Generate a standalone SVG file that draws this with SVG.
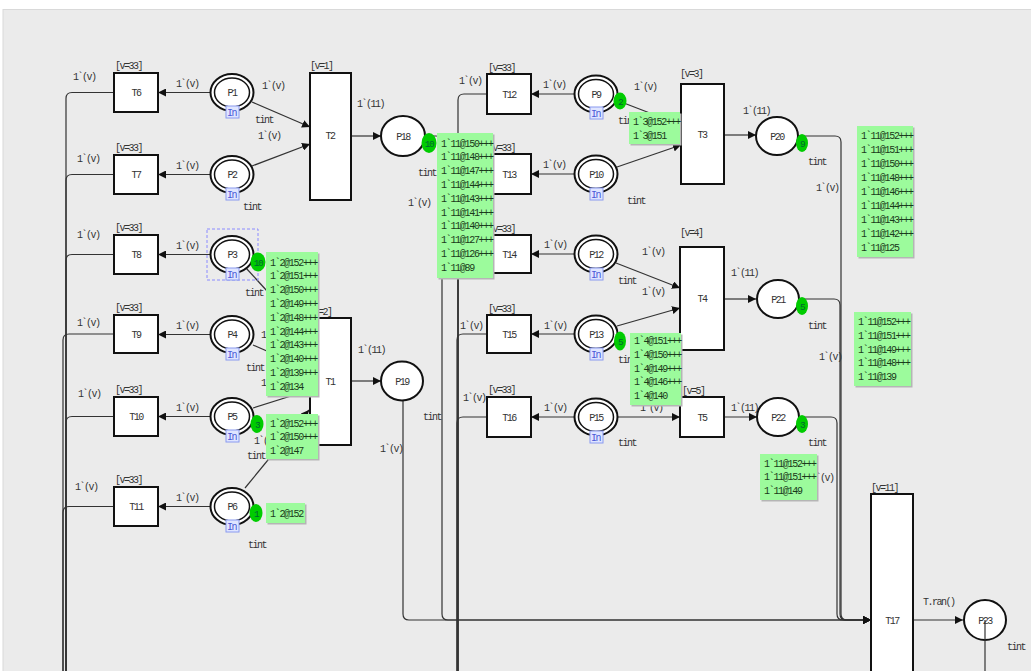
<svg xmlns="http://www.w3.org/2000/svg" width="1031" height="671" viewBox="0 0 1031 671">
<defs>
<style>
text{font-family:"Liberation Mono",monospace;font-size:10px;letter-spacing:-1.5px;fill:#333}
.c{text-anchor:middle}
.tr{fill:#fff;stroke:#111;stroke-width:2}
.pl{fill:#fff;stroke:#111;stroke-width:2}
.pi{fill:none;stroke:#111;stroke-width:1.5}
.in rect{fill:#dfe5ff;stroke:#8a9af0;stroke-width:1}
.in text{fill:#4a5ad8;font-size:10px}
.arc{fill:none;stroke:#333;stroke-width:1.2}
.ar{marker-end:url(#ah)}
.tok ellipse{fill:#00cc00}
.tok text{fill:#063;font-size:9.5px}
.box .sh{fill:#b5b5b5}
.box .bg{fill:#9cfb9c}
.box text{fill:#1a3a1a;letter-spacing:-1.3px}
</style>
<marker id="ah" viewBox="0 0 10 10" refX="10" refY="5" markerWidth="8" markerHeight="8" orient="auto" markerUnits="userSpaceOnUse"><path d="M0,0 L10,5 L0,10 z" fill="#111"/></marker>
</defs>
<rect x="0" y="0" width="1031" height="671" fill="#fff"/>
<rect x="3" y="9.5" width="1030" height="663" fill="#ebebeb" stroke="#d9d9d9"/>

<g id="connectors">
<g class="arc">
<path d="M114 92.5 H72 Q66 92.5 66 98.5 V671"/>
<path d="M114 174.5 H72 Q66 174.5 66 180.5 V671"/>
<path d="M114 254.5 H72 Q66 254.5 66 260.5 V671"/>
<path d="M114 334 H69 Q63 334 63 340 V671"/>
<path d="M114 416.5 H72 Q66 416.5 66 422.5 V671"/>
<path d="M114 506.5 H69 Q63 506.5 63 512.5 V671"/>
<path d="M487 94 H464 Q458 94 458 100 V671"/>
<path d="M487 174 H464 Q458 174 458 180 V671"/>
<path d="M487 254 H464 Q458 254 458 260 V671"/>
<path d="M487 334 H463 Q457 334 457 340 V671"/>
<path d="M487 417 H463 Q457 417 457 423 V671"/>
<path class="ar" d="M211 92.5 H158"/>
<path class="ar" d="M211 174.5 H158"/>
<path class="ar" d="M211 254.5 H158"/>
<path class="ar" d="M211 334.5 H158"/>
<path class="ar" d="M211 416.5 H158"/>
<path class="ar" d="M211 506.5 H158"/>
<path class="ar" d="M575 94 H531"/>
<path class="ar" d="M575 174 H531"/>
<path class="ar" d="M575 254 H531"/>
<path class="ar" d="M575 334 H531"/>
<path class="ar" d="M575 417 H531"/>
<path class="ar" d="M252 102 L310 127"/>
<path class="ar" d="M252 166 L310 144"/>
<path class="ar" d="M246 268 L310 338"/>
<path class="ar" d="M253 345 L310 370"/>
<path class="ar" d="M253 408 L310 390"/>
<path class="ar" d="M245 488 L309 410"/>
<path class="ar" d="M351 136 H381"/>
<path class="ar" d="M351 381 H381"/>
<path class="ar" d="M616 100 L681 125"/>
<path class="ar" d="M617 167 L681 145"/>
<path class="ar" d="M616 263 L680 288"/>
<path class="ar" d="M617 326 L680 308"/>
<path class="ar" d="M617 417 H680"/>
<path class="ar" d="M724 135 H756"/>
<path class="ar" d="M724 299 H756"/>
<path class="ar" d="M724 417 H757"/>
<path class="ar" d="M425 136 H436 Q442 136 442 142 V614 Q442 620 448 620 H871"/>
<path class="ar" d="M403 400 V614 Q403 620 409 620 H871"/>
<path class="ar" d="M799 136 H835 Q841 136 841 142 V614 Q841 620 847 620 H871"/>
<path class="ar" d="M799 299 H834 Q840 299 840 305 V614 Q840 620 846 620 H871"/>
<path class="ar" d="M800 417 H831 Q837 417 837 423 V614 Q837 620 843 620 H871"/>
<path class="ar" d="M913 620 H963"/>
</g>
<g id="arc-labels">
<text x="73" y="80">1`(v)</text><text x="77" y="162">1`(v)</text><text x="77" y="238">1`(v)</text>
<text x="77" y="326">1`(v)</text><text x="78" y="397">1`(v)</text><text x="75" y="490">1`(v)</text>
<text x="176" y="87">1`(v)</text><text x="176" y="169">1`(v)</text><text x="176" y="249">1`(v)</text>
<text x="176" y="329">1`(v)</text><text x="176" y="411">1`(v)</text><text x="176" y="501">1`(v)</text>
<text x="262" y="89">1`(v)</text><text x="255" y="123">tint</text>
<text x="258" y="139">1`(v)</text><text x="243" y="210">tint</text>
<text x="245" y="296">tint</text><text x="246" y="371">tint</text><text x="247" y="459">tint</text><text x="248" y="548">tint</text>
<text x="261" y="338">1`(v)</text><text x="261" y="386">1`(v)</text><text x="254" y="444">1`(v)</text>
<text x="357" y="107">1`(11)</text><text x="358" y="353">1`(11)</text>
<text x="418" y="176">tint</text><text x="408" y="206">1`(v)</text>
<text x="423" y="420">tint</text><text x="380" y="452">1`(v)</text>
<text x="459" y="84">1`(v)</text><text x="460" y="329">1`(v)</text><text x="463" y="401">1`(v)</text>
<text x="543" y="88">1`(v)</text><text x="543" y="168">1`(v)</text><text x="544" y="248">1`(v)</text>
<text x="544" y="329">1`(v)</text><text x="544" y="411">1`(v)</text>
<text x="634" y="90">1`(v)</text><text x="618" y="124">tint</text><text x="627" y="204">tint</text>
<text x="642" y="255">1`(v)</text><text x="618" y="284">tint</text><text x="642" y="295">1`(v)</text>
<text x="618" y="363">tint</text><text x="640" y="411">1`(v)</text><text x="618" y="446">tint</text>
<text x="743" y="114">1`(11)</text><text x="731" y="276">1`(11)</text><text x="731" y="411">1`(11)</text>
<text x="808" y="165">tint</text><text x="816" y="191">1`(v)</text>
<text x="808" y="329">tint</text><text x="819" y="360">1`(v)</text>
<text x="808" y="446">tint</text><text x="811" y="481">1`(v)</text>
<text x="923" y="605">T.ran()</text><text x="1007" y="650">tint</text>
</g>
</g>

<g id="T6"><rect class="tr" x="114" y="73" width="44" height="39"/><text class="c" x="136" y="96">T6</text><text x="115" y="69">[v=33]</text></g>
<g id="T7"><rect class="tr" x="114" y="155" width="44" height="39"/><text class="c" x="136" y="178">T7</text><text x="115" y="151">[v=33]</text></g>
<g id="T8"><rect class="tr" x="114" y="235" width="44" height="39"/><text class="c" x="136" y="258">T8</text><text x="115" y="231">[v=33]</text></g>
<g id="T9"><rect class="tr" x="114" y="315" width="44" height="38"/><text class="c" x="136" y="338">T9</text><text x="115" y="311">[v=33]</text></g>
<g id="T10"><rect class="tr" x="114" y="397" width="44" height="39"/><text class="c" x="136" y="420">T10</text><text x="115" y="393">[v=33]</text></g>
<g id="T11"><rect class="tr" x="114" y="487" width="44" height="39"/><text class="c" x="136" y="510">T11</text><text x="115" y="483">[v=33]</text></g>
<g id="T2"><rect class="tr" x="310" y="73" width="41" height="127"/><text class="c" x="330" y="139">T2</text><text x="310" y="69">[v=1]</text></g>
<g id="T1"><rect class="tr" x="310" y="318" width="41" height="127"/><text class="c" x="330" y="385">T1</text><text x="309" y="315">[v=2]</text></g>
<g id="T12"><rect class="tr" x="487" y="74" width="44" height="40"/><text class="c" x="509" y="98">T12</text><text x="488" y="71">[v=33]</text></g>
<g id="T13"><rect class="tr" x="487" y="154" width="44" height="40"/><text class="c" x="509" y="178">T13</text><text x="488" y="151">[v=33]</text></g>
<g id="T14"><rect class="tr" x="487" y="235" width="44" height="38"/><text class="c" x="509" y="258">T14</text><text x="488" y="232">[v=33]</text></g>
<g id="T15"><rect class="tr" x="487" y="315" width="44" height="38"/><text class="c" x="509" y="338">T15</text><text x="488" y="312">[v=33]</text></g>
<g id="T16"><rect class="tr" x="487" y="397" width="44" height="40"/><text class="c" x="509" y="421">T16</text><text x="488" y="393">[v=33]</text></g>
<g id="T3"><rect class="tr" x="681" y="84" width="43" height="100"/><text class="c" x="702" y="138">T3</text><text x="680" y="77">[v=3]</text></g>
<g id="T4"><rect class="tr" x="680" y="247" width="44" height="103"/><text class="c" x="702" y="302">T4</text><text x="680" y="236">[v=4]</text></g>
<g id="T5"><rect class="tr" x="680" y="397" width="44" height="40"/><text class="c" x="702" y="421">T5</text><text x="682" y="394">[v=5]</text></g>
<g id="T17"><rect class="tr" x="871" y="494" width="42" height="190"/><text class="c" x="892" y="624">T17</text><text x="871" y="491">[v=11]</text></g>

<g id="P1"><ellipse class="pl" cx="232" cy="92.5" rx="21.5" ry="18.5"/><ellipse class="pi" cx="232" cy="92.5" rx="17.5" ry="14.5"/><text class="c" x="232" y="96">P1</text><g class="in"><rect x="226" y="106" width="13" height="12"/><text x="227" y="115.5">In</text></g></g>
<g id="P2"><ellipse class="pl" cx="232" cy="174.5" rx="21.5" ry="18.5"/><ellipse class="pi" cx="232" cy="174.5" rx="17.5" ry="14.5"/><text class="c" x="232" y="178">P2</text><g class="in"><rect x="226" y="188" width="13" height="12"/><text x="227" y="197.5">In</text></g></g>
<g id="P3"><rect x="207" y="229" width="51" height="51" fill="none" stroke="#8a8aff" stroke-dasharray="3,2" stroke-width="1"/><ellipse class="pl" cx="232" cy="254.5" rx="21.5" ry="18.5"/><ellipse class="pi" cx="232" cy="254.5" rx="17.5" ry="14.5"/><text class="c" x="232" y="258">P3</text><g class="in"><rect x="226" y="268" width="13" height="12"/><text x="227" y="277.5">In</text></g></g>
<g id="P4"><ellipse class="pl" cx="232" cy="334.5" rx="21.5" ry="18.5"/><ellipse class="pi" cx="232" cy="334.5" rx="17.5" ry="14.5"/><text class="c" x="232" y="338">P4</text><g class="in"><rect x="226" y="348" width="13" height="12"/><text x="227" y="357.5">In</text></g></g>
<g id="P5"><ellipse class="pl" cx="232" cy="416.5" rx="21.5" ry="18.5"/><ellipse class="pi" cx="232" cy="416.5" rx="17.5" ry="14.5"/><text class="c" x="232" y="420">P5</text><g class="in"><rect x="226" y="430" width="13" height="12"/><text x="227" y="439.5">In</text></g></g>
<g id="P6"><ellipse class="pl" cx="232" cy="506.5" rx="21.5" ry="18.5"/><ellipse class="pi" cx="232" cy="506.5" rx="17.5" ry="14.5"/><text class="c" x="232" y="510">P6</text><g class="in"><rect x="226" y="520" width="13" height="12"/><text x="227" y="529.5">In</text></g></g>
<g id="P9"><ellipse class="pl" cx="596" cy="94" rx="21.5" ry="18.5"/><ellipse class="pi" cx="596" cy="94" rx="17.5" ry="14.5"/><text class="c" x="596" y="97.5">P9</text><g class="in"><rect x="590" y="107" width="13" height="12"/><text x="591" y="116.5">In</text></g></g>
<g id="P10"><ellipse class="pl" cx="596" cy="174" rx="21.5" ry="18.5"/><ellipse class="pi" cx="596" cy="174" rx="17.5" ry="14.5"/><text class="c" x="596" y="177.5">P10</text><g class="in"><rect x="590" y="188" width="13" height="12"/><text x="591" y="197.5">In</text></g></g>
<g id="P12"><ellipse class="pl" cx="596" cy="254" rx="21.5" ry="18.5"/><ellipse class="pi" cx="596" cy="254" rx="17.5" ry="14.5"/><text class="c" x="596" y="257.5">P12</text><g class="in"><rect x="590" y="268" width="13" height="12"/><text x="591" y="277.5">In</text></g></g>
<g id="P13"><ellipse class="pl" cx="596" cy="334" rx="21.5" ry="18.5"/><ellipse class="pi" cx="596" cy="334" rx="17.5" ry="14.5"/><text class="c" x="596" y="337.5">P13</text><g class="in"><rect x="590" y="348" width="13" height="12"/><text x="591" y="357.5">In</text></g></g>
<g id="P15"><ellipse class="pl" cx="596" cy="417" rx="21.5" ry="18.5"/><ellipse class="pi" cx="596" cy="417" rx="17.5" ry="14.5"/><text class="c" x="596" y="420.5">P15</text><g class="in"><rect x="590" y="431" width="13" height="12"/><text x="591" y="440.5">In</text></g></g>
<g id="P18"><ellipse class="pl" cx="403" cy="136" rx="22" ry="20"/><text class="c" x="403" y="139.5">P18</text></g>
<g id="P19"><ellipse class="pl" cx="402" cy="381" rx="21" ry="19.5"/><text class="c" x="402" y="384.5">P19</text></g>
<g id="P20"><ellipse class="pl" cx="777" cy="136" rx="21" ry="19"/><text class="c" x="777" y="139.5">P20</text></g>
<g id="P21"><ellipse class="pl" cx="778" cy="299" rx="21" ry="19"/><text class="c" x="778" y="302.5">P21</text></g>
<g id="P22"><ellipse class="pl" cx="778" cy="417" rx="21" ry="19"/><text class="c" x="778" y="420.5">P22</text></g>
<g id="P23"><ellipse class="pl" cx="985" cy="620" rx="21" ry="20"/><text class="c" x="985" y="623.5">P23</text><path d="M985 620 V671" stroke="#333" stroke-width="1.2"/></g>

<g id="tokens">
<g class="tok"><ellipse cx="258" cy="262" rx="7.5" ry="9.5"/><text class="c" x="258" y="265.5">10</text></g>
<g class="tok"><ellipse cx="257" cy="424" rx="6.5" ry="9"/><text class="c" x="257" y="427.5">3</text></g>
<g class="tok"><ellipse cx="256" cy="513" rx="6.5" ry="9"/><text class="c" x="256" y="516.5">1</text></g>
<g class="tok"><ellipse cx="429" cy="143" rx="7.5" ry="10"/><text class="c" x="429" y="146.5">10</text></g>
<g class="tok"><ellipse cx="620" cy="101" rx="6.5" ry="8.5"/><text class="c" x="620" y="104.5">2</text></g>
<g class="tok"><ellipse cx="620" cy="341" rx="6" ry="9.5"/><text class="c" x="620" y="344.5">5</text></g>
<g class="tok"><ellipse cx="802" cy="143" rx="6" ry="9"/><text class="c" x="802" y="146.5">9</text></g>
<g class="tok"><ellipse cx="802" cy="306" rx="6" ry="9"/><text class="c" x="802" y="309.5">5</text></g>
<g class="tok"><ellipse cx="802" cy="424" rx="6" ry="9"/><text class="c" x="802" y="427.5">3</text></g>
</g>

<g id="token-boxes">
<g class="box"><rect class="sh" x="267.5" y="253.5" width="52" height="144"/><rect class="bg" x="266" y="252" width="52" height="144"/>
<text x="270" y="265.5">1`2@152+++</text><text x="270" y="279.3">1`2@151+++</text><text x="270" y="293.1">1`2@150+++</text><text x="270" y="306.9">1`2@149+++</text><text x="270" y="320.7">1`2@148+++</text><text x="270" y="334.5">1`2@144+++</text><text x="270" y="348.3">1`2@143+++</text><text x="270" y="362.1">1`2@140+++</text><text x="270" y="375.9">1`2@139+++</text><text x="270" y="389.7">1`2@134</text></g>
<g class="box"><rect class="sh" x="267.5" y="415.5" width="52" height="45"/><rect class="bg" x="266" y="414" width="52" height="45"/>
<text x="270" y="426.5">1`2@152+++</text><text x="270" y="440.3">1`2@150+++</text><text x="270" y="454.1">1`2@147</text></g>
<g class="box"><rect class="sh" x="267.5" y="504.5" width="39" height="20"/><rect class="bg" x="266" y="503" width="39" height="20"/>
<text x="270" y="516.5">1`2@152</text></g>
<g class="box"><rect class="sh" x="438.5" y="134.5" width="56" height="145"/><rect class="bg" x="437" y="133" width="56" height="145"/>
<text x="441" y="146.5">1`11@150+++</text><text x="441" y="160.3">1`11@148+++</text><text x="441" y="174.1">1`11@147+++</text><text x="441" y="187.9">1`11@144+++</text><text x="441" y="201.7">1`11@143+++</text><text x="441" y="215.5">1`11@141+++</text><text x="441" y="229.3">1`11@140+++</text><text x="441" y="243.1">1`11@127+++</text><text x="441" y="256.9">1`11@126+++</text><text x="441" y="270.7">1`11@89</text></g>
<g class="box"><rect class="sh" x="630.5" y="113.5" width="51" height="32"/><rect class="bg" x="629" y="112" width="51" height="32"/>
<text x="633" y="125">1`3@152+++</text><text x="633" y="139">1`3@151</text></g>
<g class="box"><rect class="sh" x="631.5" y="334.5" width="51" height="72"/><rect class="bg" x="630" y="333" width="51" height="72"/>
<text x="634" y="344">1`4@151+++</text><text x="634" y="357.8">1`4@150+++</text><text x="634" y="371.6">1`4@149+++</text><text x="634" y="385.4">1`4@146+++</text><text x="634" y="399.2">1`4@140</text></g>
<g class="box"><rect class="sh" x="858.5" y="127.5" width="56" height="131"/><rect class="bg" x="857" y="126" width="56" height="131"/>
<text x="861" y="139.3">1`11@152+++</text><text x="861" y="153.3">1`11@151+++</text><text x="861" y="167.2">1`11@150+++</text><text x="861" y="181.2">1`11@148+++</text><text x="861" y="195.1">1`11@146+++</text><text x="861" y="209.1">1`11@144+++</text><text x="861" y="223">1`11@143+++</text><text x="861" y="237">1`11@142+++</text><text x="861" y="250.9">1`11@125</text></g>
<g class="box"><rect class="sh" x="855.5" y="313.5" width="57" height="74"/><rect class="bg" x="854" y="312" width="57" height="74"/>
<text x="858" y="325">1`11@152+++</text><text x="858" y="338.8">1`11@151+++</text><text x="858" y="352.5">1`11@149+++</text><text x="858" y="366.3">1`11@148+++</text><text x="858" y="380">1`11@139</text></g>
<g class="box"><rect class="sh" x="761.5" y="455.5" width="57" height="46"/><rect class="bg" x="760" y="454" width="57" height="46"/>
<text x="764" y="466.5">1`11@152+++</text><text x="764" y="480.3">1`11@151+++</text><text x="764" y="494.1">1`11@149</text></g>
</g>
</svg>
